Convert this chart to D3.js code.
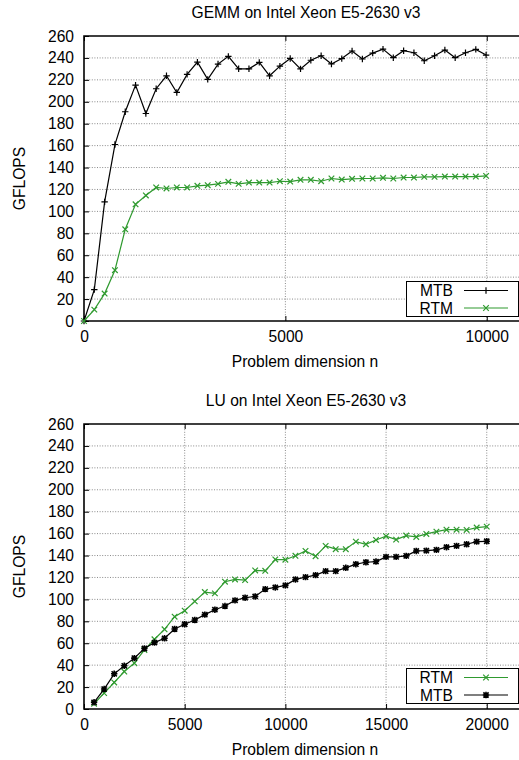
<!DOCTYPE html>
<html>
<head>
<meta charset="utf-8">
<script src="https://cdn.jsdelivr.net/npm/d3@7"></script>
<style>
  html, body { margin: 0; padding: 0; background: #fff; }
  svg { display: block; }
  text { font-family: "Liberation Sans", Arial, Helvetica, sans-serif; fill: #000; }
</style>
</head>
<body>
<svg id="chart" width="519" height="760"></svg>
<script>
// ---------- data ----------
const gemmTitle = "GEMM on Intel Xeon E5-2630 v3";
const luTitle = "LU on Intel Xeon E5-2630 v3";
const xLabel = "Problem dimension n";
const yLabel = "GFLOPS";

const gemmN = [0,256,512,768,1024,1280,1536,1792,2048,2304,2560,2816,3072,3328,3584,3840,4096,4352,4608,4864,
  5120,5376,5632,5888,6144,6400,6656,6912,7168,7424,7680,7936,8192,8448,8704,8960,9216,9472,9728,9984];
const gemmMTB = [0,28.6,108.7,161,190.9,215.2,189.3,211.9,223.7,208.5,225,236.2,220.4,234.4,241.4,230.1,230.1,235.9,223.7,232.5,
  239.5,230,237.9,242,234.5,239.4,246.3,239,244.4,248,240.2,246.6,244.7,237.4,242,247.2,240.2,244.7,247.8,242.6];
const gemmRTM = [0,10.4,25,46.3,83.7,106.5,114.5,121.8,120.9,121.8,121.8,123.3,123.9,125.1,127,125.1,126.3,126.3,126.3,127.5,
  127.2,128.8,128.8,127.5,130,129,129.7,130,130,130.6,130,130.9,130.9,131.5,131.5,131.8,131.8,131.8,131.8,132.4];

const luN = [500,1000,1500,2000,2500,3000,3500,4000,4500,5000,5500,6000,6500,7000,7500,8000,8500,9000,9500,10000,
  10500,11000,11500,12000,12500,13000,13500,14000,14500,15000,15500,16000,16500,17000,17500,18000,18500,19000,19500,20000];
const luMTB = [6.1,18.2,32.1,39.4,46.4,55.2,60.6,64.5,73,77.3,81.2,86.1,90.6,93.9,99.1,101.5,102.7,109.4,110.9,112.8,
  118.2,120.3,122.1,125.8,125.8,128.8,132.1,133.9,134.5,138.8,138.8,139.7,144.2,144.5,145.2,147.6,148.8,150.3,152.7,153];
const luRTM = [4.8,14.5,24.2,34.2,41.8,53.9,63.6,72.7,84.2,89.7,98.2,106.7,105.5,116.1,118.2,117.6,126.4,126.1,136.4,136.2,
  139.8,144.2,139.4,148.8,145.8,145.8,152.7,150.3,154.2,157.6,154.5,158.2,157,159.7,161.8,163.6,163.6,163.3,165.5,166.4];

const yTicks = [0,20,40,60,80,100,120,140,160,180,200,220,240,260];
const gemmXTicks = [0,5000,10000];
const luXTicks = [0,5000,10000,15000,20000];

// ---------- drawing ----------
const svg = d3.select("#chart");
const BLACK = "#000";
const GREEN = "#2f9a2f";
const FONT = 15.6;
const fmt = d3.format("d");

function marker(g, type, x, y, color) {
  const s = 3.2;
  const p = d3.path();
  if (type === "plus" || type === "star") {
    p.moveTo(x - s, y); p.lineTo(x + s, y);
    p.moveTo(x, y - s); p.lineTo(x, y + s);
  }
  if (type === "cross" || type === "star") {
    const c = type === "star" ? 2.6 : 2.8;
    p.moveTo(x - c, y - c); p.lineTo(x + c, y + c);
    p.moveTo(x - c, y + c); p.lineTo(x + c, y - c);
  }
  g.append("path").attr("d", p.toString()).attr("stroke", color)
    .attr("stroke-width", type === "star" ? 1.6 : 1.2).attr("fill", "none");
}

function panel(cfg) {
  const x = d3.scaleLinear().domain([0, cfg.xMax]).range([84, 523]);
  const y = d3.scaleLinear().domain([0, 260]).range([cfg.bottom, cfg.bottom - 285]);
  const g = svg.append("g");
  const top = y(260), bot = y(0);

  // grid
  g.selectAll(".hg").data(yTicks.filter(v => v > 0 && v < 260)).enter().append("line")
    .attr("x1", x(0)).attr("x2", x(cfg.xMax)).attr("y1", d => y(d)).attr("y2", d => y(d))
    .attr("stroke", "#8a8a8a").attr("stroke-width", 1).attr("stroke-dasharray", "1,1.6");
  g.selectAll(".vg").data(cfg.xTicks.filter(v => v > 0)).enter().append("line")
    .attr("x1", d => x(d)).attr("x2", d => x(d)).attr("y1", top).attr("y2", bot)
    .attr("stroke", "#8a8a8a").attr("stroke-width", 1).attr("stroke-dasharray", "1,1.6");

  // axes with inward ticks
  const yAxis = d3.axisLeft(y).tickValues(yTicks).tickFormat(fmt).tickSizeInner(-5).tickSizeOuter(0).tickPadding(10);
  const ya = g.append("g").attr("transform", `translate(${x(0)},0)`).call(yAxis);
  ya.select(".domain").remove();
  ya.selectAll("text").attr("font-size", FONT).attr("font-family", "Liberation Sans, Arial, sans-serif");
  ya.selectAll("line").attr("stroke", BLACK);

  const xAxis = d3.axisBottom(x).tickValues(cfg.xTicks).tickFormat(fmt).tickSizeInner(-5).tickSizeOuter(0).tickPadding(10);
  const xa = g.append("g").attr("transform", `translate(0,${bot})`).call(xAxis);
  xa.select(".domain").remove();
  xa.selectAll("text").attr("font-size", FONT).attr("font-family", "Liberation Sans, Arial, sans-serif").attr("dy", "0.72em");
  xa.selectAll("line").attr("stroke", BLACK);

  // mirrored top ticks
  const xTop = d3.axisTop(x).tickValues(cfg.xTicks).tickSizeInner(-5).tickSizeOuter(0).tickFormat("");
  const xt = g.append("g").attr("transform", `translate(0,${top})`).call(xTop);
  xt.select(".domain").remove();
  xt.selectAll("line").attr("stroke", BLACK);

  // border
  g.append("path").attr("d", `M${x(cfg.xMax)},${top}H${x(0)}V${bot}H${x(cfg.xMax)}`)
    .attr("fill", "none").attr("stroke", BLACK).attr("stroke-width", 1.6);

  // series
  cfg.series.forEach(s => {
    const pts = cfg.n.map((n, i) => [x(n), y(s.values[i])]);
    g.append("path").attr("d", d3.line()(pts)).attr("fill", "none")
      .attr("stroke", s.color).attr("stroke-width", 1.2);
    const mg = g.append("g");
    pts.forEach(p => marker(mg, s.marker, p[0], p[1], s.color));
  });

  // legend
  const lg = g.append("g");
  lg.append("rect").attr("x", 406.5).attr("y", cfg.legendTop).attr("width", 112).attr("height", 35)
    .attr("fill", "#fff").attr("stroke", BLACK).attr("stroke-width", 1);
  cfg.legend.forEach((s, i) => {
    const cy = cfg.legendTop + 9 + i * 17.5;
    lg.append("text").attr("x", 453).attr("y", cy).attr("dy", "0.36em").attr("text-anchor", "end")
      .attr("font-size", FONT).text(s.name);
    lg.append("line").attr("x1", 464).attr("x2", 508).attr("y1", cy).attr("y2", cy)
      .attr("stroke", s.color).attr("stroke-width", 1.2);
    marker(lg, s.marker, 486, cy, s.color);
  });

  // titles
  g.append("text").attr("x", 306).attr("y", top - 18).attr("text-anchor", "middle")
    .attr("font-size", FONT).text(cfg.title);
  g.append("text").attr("x", 305).attr("y", bot + 46).attr("text-anchor", "middle")
    .attr("font-size", FONT).text(xLabel);
  g.append("text").attr("transform", `translate(25,${(top + bot) / 2}) rotate(-90)`)
    .attr("text-anchor", "middle").attr("font-size", FONT).text(yLabel);
}

const sGemmMTB = { name: "MTB", values: gemmMTB, color: BLACK, marker: "plus" };
const sGemmRTM = { name: "RTM", values: gemmRTM, color: GREEN, marker: "cross" };
panel({
  title: gemmTitle, xMax: 10900, bottom: 321, xTicks: gemmXTicks, n: gemmN,
  series: [sGemmMTB, sGemmRTM], legend: [sGemmMTB, sGemmRTM], legendTop: 281.5
});

const sLuRTM = { name: "RTM", values: luRTM, color: GREEN, marker: "cross" };
const sLuMTB = { name: "MTB", values: luMTB, color: BLACK, marker: "star" };
panel({
  title: luTitle, xMax: 21800, bottom: 709, xTicks: luXTicks, n: luN,
  series: [sLuRTM, sLuMTB], legend: [sLuRTM, sLuMTB], legendTop: 668.5
});
</script>
</body>
</html>
